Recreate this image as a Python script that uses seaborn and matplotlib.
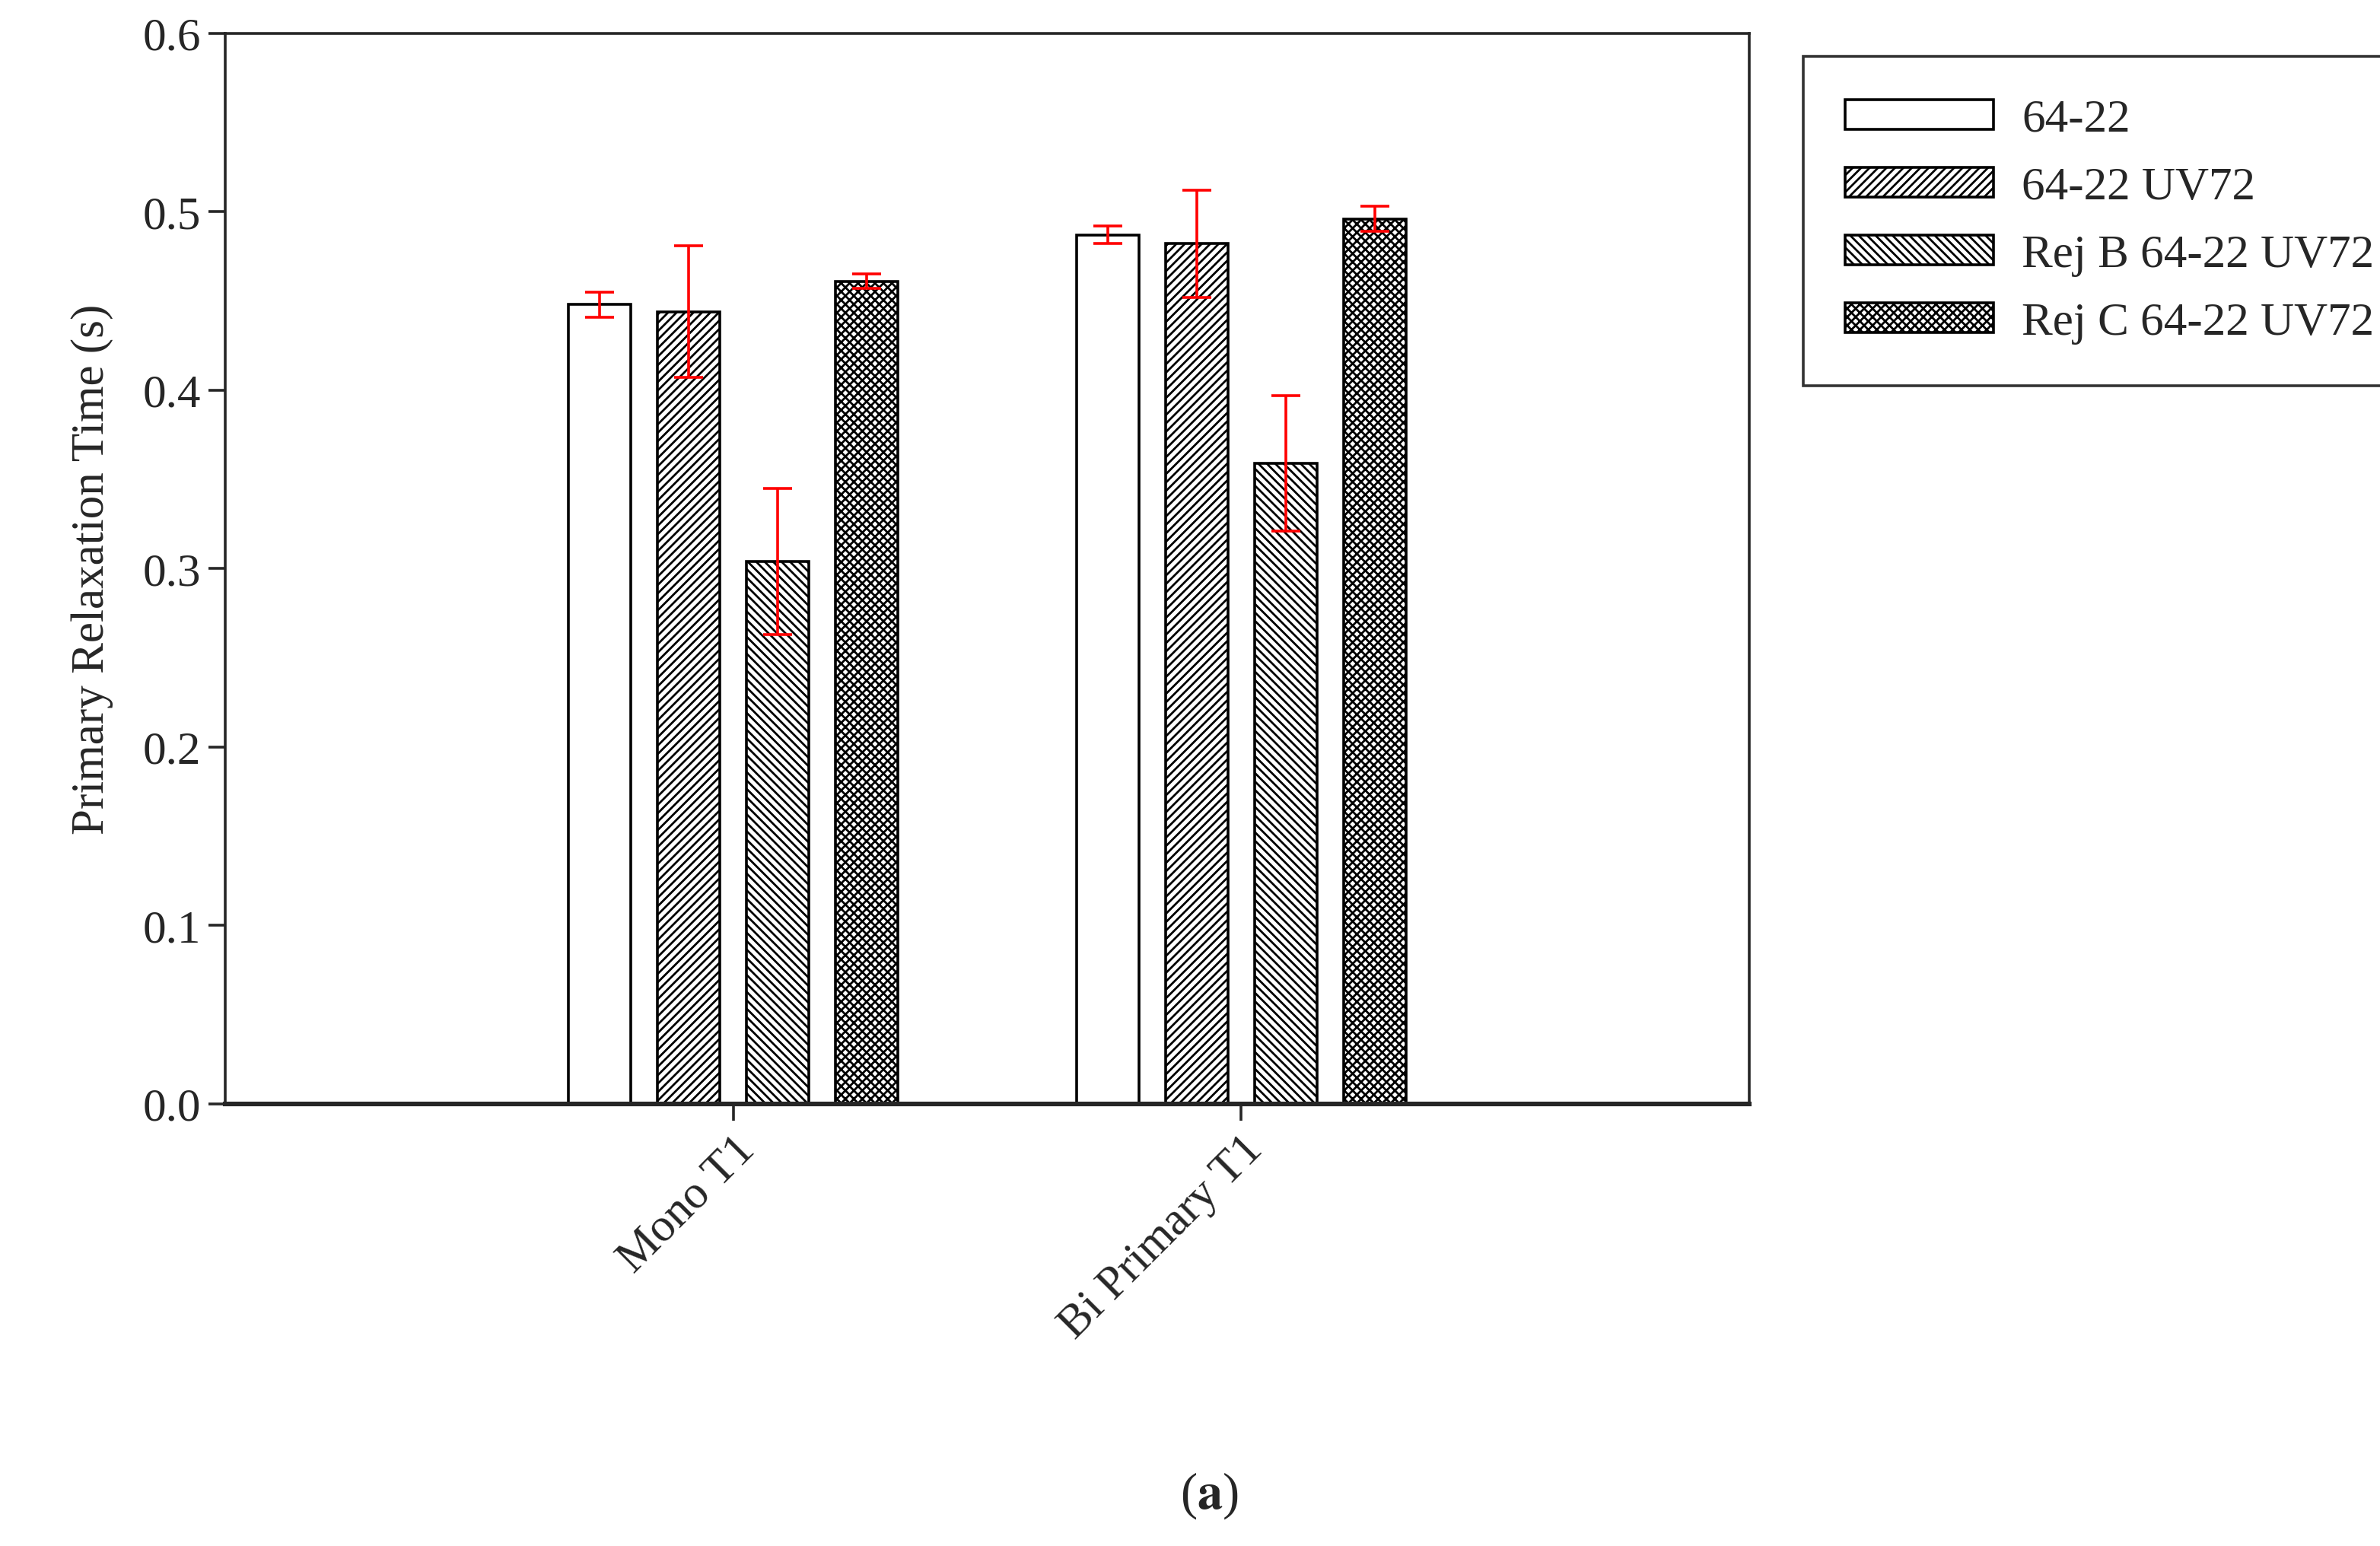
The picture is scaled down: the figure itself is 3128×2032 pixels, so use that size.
import matplotlib
matplotlib.use("Agg")
import matplotlib.pyplot as plt
from matplotlib.patches import Patch
import seaborn as sns
import pandas as pd
import numpy as np

sns.set_style("ticks")
plt.rcParams['font.family'] = ['Liberation Serif', 'DejaVu Serif']
plt.rcParams['mathtext.fontset'] = 'stix'
plt.rcParams['hatch.linewidth'] = 1.0

categories = ["Mono T1", "Bi Primary T1"]
series = ["64-22", "64-22 UV72", "Rej B 64-22 UV72", "Rej C 64-22 UV72"]
means = {
    "64-22": [0.448, 0.487],
    "64-22 UV72": [0.444, 0.482],
    "Rej B 64-22 UV72": [0.304, 0.359],
    "Rej C 64-22 UV72": [0.461, 0.496],
}
errs = {
    "64-22": [0.007, 0.005],
    "64-22 UV72": [0.037, 0.030],
    "Rej B 64-22 UV72": [0.041, 0.038],
    "Rej C 64-22 UV72": [0.004, 0.007],
}
hatches = ["", "//////", "\\\\\\\\\\\\", "xxxxxx"]

rows = []
for s in series:
    for c, v in zip(categories, means[s]):
        rows.append({"cat": c, "series": s, "val": v})
df = pd.DataFrame(rows)

fig = plt.figure(figsize=(15.64, 10.165), dpi=200)
ax = fig.add_axes([0.0946, 0.286, 0.6404, 0.692])
sns.barplot(data=df, x="cat", y="val", hue="series", order=categories,
            hue_order=series, width=0.7, gap=0.3, color="white",
            edgecolor="black", linewidth=1.3, errorbar=None, ax=ax,
            legend=False)

for i, (cont, s) in enumerate(zip(ax.containers, series)):
    for bar, e in zip(cont, errs[s]):
        bar.set_facecolor("white")
        bar.set_hatch(hatches[i])
        x = bar.get_x() + bar.get_width() / 2
        ax.errorbar(x, bar.get_height(), yerr=e, color="red", capsize=7,
                    elinewidth=1.3, capthick=1.3, zorder=5)

fs = 22
ax.set_xlim(-1.0, 2.0)
ax.set_ylim(0, 0.6)
ax.set_yticks(np.arange(0, 0.61, 0.1))
ax.set_yticklabels([f"{v:.1f}" for v in np.arange(0, 0.61, 0.1)], fontsize=fs)
ax.set_xticks([0, 1])
ax.set_xticklabels(categories, rotation=45, ha="right", rotation_mode="anchor",
                   fontsize=fs)
ax.set_xlabel("")
ax.set_ylabel("Primary Relaxation Time (s)", fontsize=fs, labelpad=14)
for sp in ax.spines.values():
    sp.set_visible(True)
    sp.set_linewidth(1.3)
ax.spines["bottom"].set_linewidth(2.2)
ax.tick_params(length=8, width=1.3)

handles = [Patch(facecolor="white", edgecolor="black", hatch=h, linewidth=1.3)
           for h in hatches]
leg = ax.legend(handles, series, loc="upper left", bbox_to_anchor=(1.02, 1.0),
                fontsize=fs, frameon=True, fancybox=False, edgecolor="black",
                handlelength=3.2, handleheight=0.6, borderpad=0.9,
                labelspacing=0.55, handletextpad=0.6)
leg.get_frame().set_linewidth(1.3)

fig.text(0.508, 0.025, r"($\mathbf{a}$)", ha="center", fontsize=24)
fig.savefig("out.png", dpi=200)
